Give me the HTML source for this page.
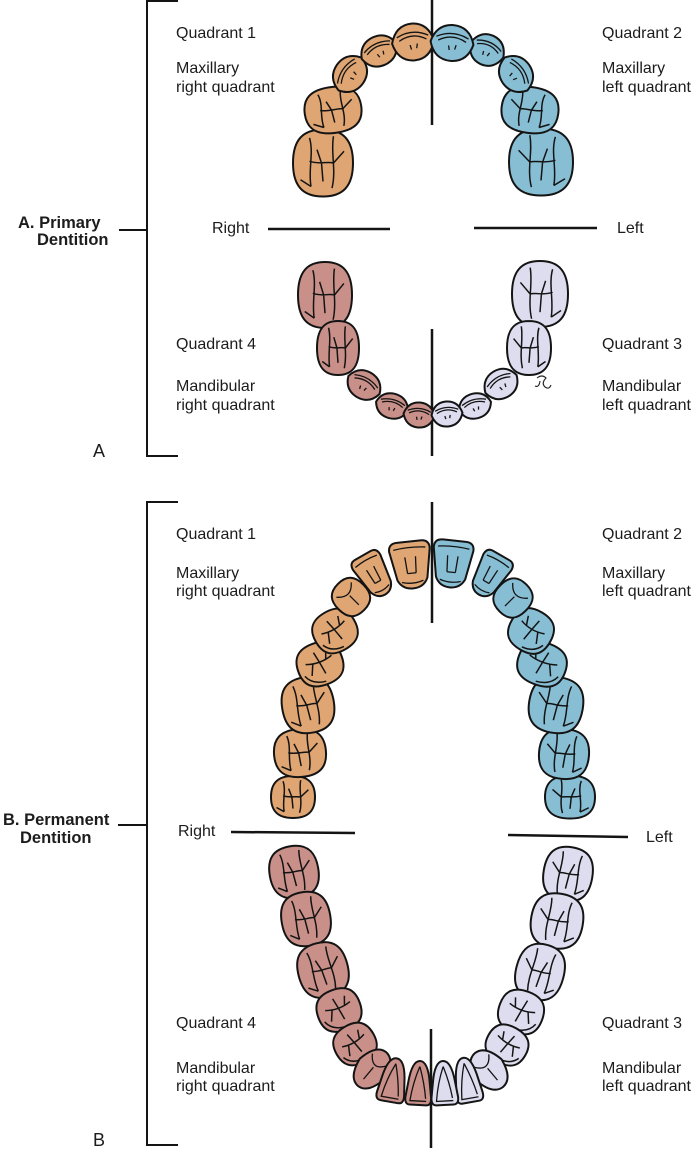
<!DOCTYPE html>
<html>
<head>
<meta charset="utf-8">
<style>
  html,body{margin:0;padding:0;background:#fff;}
  svg{display:block;}
  text{font-family:"Liberation Sans",Arial,sans-serif;fill:#1c1c1c;}
  .lb{font-size:16px;}
  .bd{font-size:16.5px;font-weight:bold;}
  .big{font-size:18px;}
</style>
</head>
<body>
<svg width="694" height="1153" viewBox="0 0 694 1153" xmlns="http://www.w3.org/2000/svg">
<defs>
  <path id="sq" d="M0,-1 C0.68,-1 1,-0.68 1,0 C1,0.68 0.68,1 0,1 C-0.68,1 -1,0.68 -1,0 C-1,-0.68 -0.68,-1 0,-1Z" stroke="#141414" stroke-width="2" vector-effect="non-scaling-stroke"/>
  <path id="dia" d="M-1,0 Q-0.78,-0.98 0,-1 Q0.78,-0.98 1,0 Q0.78,0.98 0,1 Q-0.78,0.98 -1,0Z" stroke="#141414" stroke-width="2" vector-effect="non-scaling-stroke"/>
  <path id="trap" d="M-0.95,-0.65 Q-0.95,-1 -0.55,-1 L0.55,-1 Q0.95,-1 0.95,-0.65 L0.7,0.6 Q0.5,1 0,1 Q-0.5,1 -0.7,0.6Z" stroke="#141414" stroke-width="2" vector-effect="non-scaling-stroke"/>
  <path id="linc" d="M0,-1 Q0.6,-1 0.8,0 L0.95,0.65 Q1,1 0.6,1 L-0.6,1 Q-1,1 -0.95,0.65 L-0.8,0 Q-0.6,-1 0,-1Z" stroke="#141414" stroke-width="2" vector-effect="non-scaling-stroke"/>
  <path id="mc" d="M-0.45,-0.75 C-0.3,-0.3 -0.5,0.2 -0.4,0.7 M0.35,-0.8 C0.25,-0.3 0.45,0.2 0.3,0.75 M-0.45,-0.05 C-0.1,0.05 0.1,-0.05 0.35,0.0 M-0.05,0.0 L0.0,0.55 M0.35,0 L0.7,-0.35 M-0.4,0.7 L-0.75,0.5 M-0.05,0 L-0.2,-0.4" fill="none" stroke="#141414" stroke-width="1.5" vector-effect="non-scaling-stroke"/>
  <path id="pm" d="M-0.6,-0.2 C-0.2,-0.05 0.2,-0.05 0.6,-0.2 M0,-0.1 L-0.1,-0.6 M0,-0.1 L0.1,0.5 M-0.3,-0.1 L-0.5,0.4 M0.3,-0.1 L0.45,-0.55 M-0.8,0.3 Q-0.6,0.8 0,0.85" fill="none" stroke="#141414" stroke-width="1.5" vector-effect="non-scaling-stroke"/>
  <path id="ic" d="M-0.75,-0.3 Q0,-0.75 0.75,-0.3 M-0.65,-0.1 Q0,-0.55 0.65,-0.1 M-0.15,0.15 L-0.1,0.4 M0.2,0.1 L0.15,0.35" fill="none" stroke="#141414" stroke-width="1.3" vector-effect="non-scaling-stroke"/>
  <path id="tc" d="M-0.75,-0.7 Q0,-0.8 0.75,-0.7 M-0.25,-0.35 L-0.2,0.35 M0.25,-0.35 L0.2,0.35 M-0.2,0.35 L0.2,0.35 M-0.5,0.7 Q0,0.85 0.5,0.7" fill="none" stroke="#141414" stroke-width="1.3" vector-effect="non-scaling-stroke"/>
  <path id="lc" d="M0,-0.75 Q-0.45,0 -0.6,0.8 M0,-0.75 Q0.4,0 0.55,0.7 M-0.65,0.82 L0.6,0.82" fill="none" stroke="#141414" stroke-width="1.3" vector-effect="non-scaling-stroke"/>
  <path id="cc" d="M-0.6,-0.55 Q0,0.1 0.6,-0.55 M0,-0.1 L0,0.6" fill="none" stroke="#141414" stroke-width="1.3" vector-effect="non-scaling-stroke"/>
</defs>

<!-- Brackets -->
<g stroke="#141414" stroke-width="2" fill="none">
  <path d="M178,1 L147,1 L147,456 L178,456"/>
  <path d="M119,230 L147,230"/>
  <path d="M178,502 L147,502 L147,1145 L178,1145"/>
  <path d="M118,825 L147,825"/>
</g>

<!-- Midlines and horizontal lines -->
<g stroke="#141414" stroke-width="2.5" fill="none">
  <path d="M432,0 L432,125"/>
  <path d="M432,329 L432,456"/>
  <path d="M432,502 L432,623"/>
  <path d="M431,1029 L431,1148"/>
  <path d="M268,229 L390,229"/>
  <path d="M474,228 L597,228"/>
  <path d="M231,832 L355,833"/>
  <path d="M508,835 L628,837"/>
</g>

<!-- PRIMARY UPPER - orange -->
<g fill="#DFA572">
  <g transform="translate(323 163) scale(30 33.5)"><use href="#sq"/><use href="#mc"/></g>
  <g transform="translate(333 110) rotate(-8) scale(28.5 23)"><use href="#sq"/><use href="#mc"/></g>
  <g transform="translate(350 74) rotate(-55) scale(20 16)"><use href="#dia"/><use href="#ic"/></g>
  <g transform="translate(379 51) rotate(-25) scale(19 15)"><use href="#dia"/><use href="#ic"/></g>
  <g transform="translate(413 42) rotate(-5) scale(21 18.5)"><use href="#dia"/><use href="#ic"/></g>
</g>
<!-- PRIMARY UPPER - blue -->
<g fill="#87BED4">
  <g transform="translate(541 162) scale(-32 33.5)"><use href="#sq"/><use href="#mc"/></g>
  <g transform="translate(530 110) rotate(8) scale(-28.5 23)"><use href="#sq"/><use href="#mc"/></g>
  <g transform="translate(516 74) rotate(55) scale(20 16)"><use href="#dia"/><use href="#ic"/></g>
  <g transform="translate(487 50) rotate(25) scale(18 15.5)"><use href="#dia"/><use href="#ic"/></g>
  <g transform="translate(452 43) rotate(5) scale(21.5 18)"><use href="#dia"/><use href="#ic"/></g>
</g>

<!-- PRIMARY LOWER - pink -->
<g fill="#C99089">
  <g transform="translate(325 295) scale(27 33)"><use href="#sq"/><use href="#mc"/></g>
  <g transform="translate(338 348) scale(21 27)"><use href="#sq"/><use href="#mc"/></g>
  <g transform="translate(364 385) rotate(30) scale(18 14)"><use href="#dia"/><use href="#ic"/></g>
  <g transform="translate(392 406) rotate(15) scale(16.5 12.5)"><use href="#dia"/><use href="#ic"/></g>
  <g transform="translate(419 415) rotate(5) scale(15.5 12.5)"><use href="#dia"/><use href="#ic"/></g>
</g>
<!-- PRIMARY LOWER - lavender -->
<g fill="#DDDDEF">
  <g transform="translate(540 294) scale(-28 33)"><use href="#sq"/><use href="#mc"/></g>
  <g transform="translate(529 348) scale(-22 27)"><use href="#sq"/><use href="#mc"/></g>
  <g transform="translate(501 384) rotate(-30) scale(18 14.5)"><use href="#dia"/><use href="#ic"/></g>
  <g transform="translate(475 406) rotate(-15) scale(16.5 12.5)"><use href="#dia"/><use href="#ic"/></g>
  <g transform="translate(447 414) rotate(-5) scale(15.5 12.5)"><use href="#dia"/><use href="#ic"/></g>
</g>
<!-- signature -->
<path d="M537,378 Q542,374 546,378 Q541,383 545,387 Q549,390 551,385 M540,381 Q539,388 535,386" fill="none" stroke="#222" stroke-width="1.1"/>

<!-- PERMANENT UPPER - orange -->
<g fill="#DFA572">
  <g transform="translate(293 797) scale(22 21)"><use href="#sq"/><use href="#mc"/></g>
  <g transform="translate(300 753) rotate(-5) scale(26 24)"><use href="#sq"/><use href="#mc"/></g>
  <g transform="translate(308 705) rotate(-10) scale(26 28)"><use href="#sq"/><use href="#mc"/></g>
  <g transform="translate(320 664) rotate(-20) scale(23 21.5)"><use href="#sq"/><use href="#pm"/></g>
  <g transform="translate(335 631) rotate(-30) scale(22 21)"><use href="#sq"/><use href="#pm"/></g>
  <g transform="translate(351 597) rotate(-45) scale(17.5 18.5)"><use href="#sq"/><use href="#cc"/></g>
  <g transform="translate(374 575) rotate(-30) scale(16.5 22.5)"><use href="#trap"/><use href="#tc"/></g>
  <g transform="translate(411 565) rotate(-6) scale(21.5 23.5)"><use href="#trap"/><use href="#tc"/></g>
</g>
<!-- PERMANENT UPPER - blue -->
<g fill="#87BED4">
  <g transform="translate(570 797) scale(-25 21.5)"><use href="#sq"/><use href="#mc"/></g>
  <g transform="translate(564 754) rotate(5) scale(-25 25)"><use href="#sq"/><use href="#mc"/></g>
  <g transform="translate(556 705) rotate(10) scale(-27 28)"><use href="#sq"/><use href="#mc"/></g>
  <g transform="translate(542 664) rotate(20) scale(-24.5 21.5)"><use href="#sq"/><use href="#pm"/></g>
  <g transform="translate(531 631) rotate(30) scale(-22 21.5)"><use href="#sq"/><use href="#pm"/></g>
  <g transform="translate(513 598) rotate(45) scale(18 19)"><use href="#sq"/><use href="#cc"/></g>
  <g transform="translate(490 575) rotate(30) scale(17 22.5)"><use href="#trap"/><use href="#tc"/></g>
  <g transform="translate(452 564) rotate(6) scale(21 23.5)"><use href="#trap"/><use href="#tc"/></g>
</g>

<!-- PERMANENT LOWER - pink -->
<g fill="#C99089">
  <g transform="translate(294 872) rotate(-10) scale(24.5 26)"><use href="#sq"/><use href="#mc"/></g>
  <g transform="translate(306 919) rotate(-10) scale(24.5 27)"><use href="#sq"/><use href="#mc"/></g>
  <g transform="translate(323 970) rotate(-15) scale(25 27.5)"><use href="#sq"/><use href="#mc"/></g>
  <g transform="translate(339 1010) rotate(-20) scale(22 21)"><use href="#sq"/><use href="#pm"/></g>
  <g transform="translate(355 1044) rotate(-30) scale(21 20)"><use href="#sq"/><use href="#pm"/></g>
  <g transform="translate(372 1069) rotate(40) scale(16 22)"><use href="#dia"/><use href="#cc"/></g>
  <g transform="translate(393 1080) rotate(10) scale(14.5 22)"><use href="#linc"/><use href="#lc"/></g>
  <g transform="translate(419 1083) rotate(3) scale(13.5 22)"><use href="#linc"/><use href="#lc"/></g>
</g>
<!-- PERMANENT LOWER - lavender -->
<g fill="#DDDDEF">
  <g transform="translate(568 874) rotate(10) scale(-24.5 27)"><use href="#sq"/><use href="#mc"/></g>
  <g transform="translate(557 921) rotate(10) scale(-26 27.5)"><use href="#sq"/><use href="#mc"/></g>
  <g transform="translate(540 972) rotate(15) scale(-24 28)"><use href="#sq"/><use href="#mc"/></g>
  <g transform="translate(521 1012) rotate(20) scale(-22.5 21.5)"><use href="#sq"/><use href="#pm"/></g>
  <g transform="translate(507 1045) rotate(30) scale(-21 19)"><use href="#sq"/><use href="#pm"/></g>
  <g transform="translate(489 1070) rotate(-40) scale(16.5 22)"><use href="#dia"/><use href="#cc"/></g>
  <g transform="translate(467 1080) rotate(-10) scale(14 22.5)"><use href="#linc"/><use href="#lc"/></g>
  <g transform="translate(444 1083) rotate(-3) scale(14 22)"><use href="#linc"/><use href="#lc"/></g>
</g>

<!-- TEXT: Primary -->
<text class="lb" x="176" y="38">Quadrant 1</text>
<text class="lb" x="176" y="73">Maxillary</text>
<text class="lb" x="176" y="92">right quadrant</text>
<text class="lb" x="602" y="38">Quadrant 2</text>
<text class="lb" x="602" y="73">Maxillary</text>
<text class="lb" x="602" y="92">left quadrant</text>
<text class="lb" x="212" y="233">Right</text>
<text class="lb" x="617" y="233">Left</text>
<text class="lb" x="176" y="349">Quadrant 4</text>
<text class="lb" x="176" y="391">Mandibular</text>
<text class="lb" x="176" y="410">right quadrant</text>
<text class="lb" x="602" y="349">Quadrant 3</text>
<text class="lb" x="602" y="391">Mandibular</text>
<text class="lb" x="602" y="410">left quadrant</text>
<text class="big" x="93" y="457">A</text>
<text class="bd" x="18" y="228">A. Primary</text>
<text class="bd" x="37" y="245">Dentition</text>

<!-- TEXT: Permanent -->
<text class="lb" x="176" y="539">Quadrant 1</text>
<text class="lb" x="176" y="578">Maxillary</text>
<text class="lb" x="176" y="596">right quadrant</text>
<text class="lb" x="602" y="539">Quadrant 2</text>
<text class="lb" x="602" y="578">Maxillary</text>
<text class="lb" x="602" y="596">left quadrant</text>
<text class="lb" x="178" y="836">Right</text>
<text class="lb" x="646" y="842">Left</text>
<text class="lb" x="176" y="1028">Quadrant 4</text>
<text class="lb" x="176" y="1073">Mandibular</text>
<text class="lb" x="176" y="1091">right quadrant</text>
<text class="lb" x="602" y="1028">Quadrant 3</text>
<text class="lb" x="602" y="1073">Mandibular</text>
<text class="lb" x="602" y="1091">left quadrant</text>
<text class="big" x="93" y="1146">B</text>
<text class="bd" x="3" y="825">B. Permanent</text>
<text class="bd" x="20" y="843">Dentition</text>
</svg>
</body>
</html>
